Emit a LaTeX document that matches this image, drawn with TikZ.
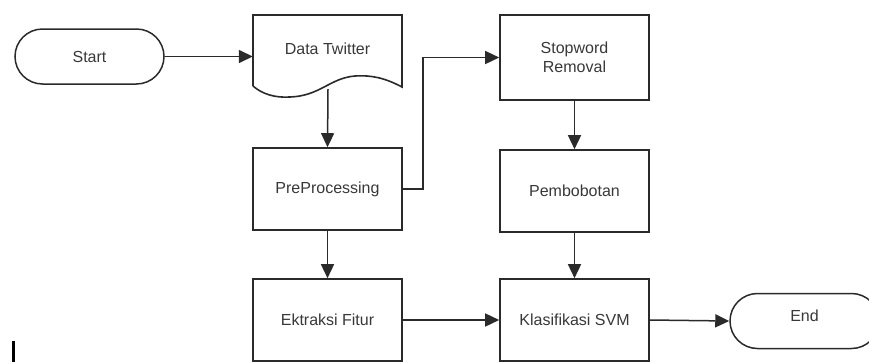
\documentclass[tikz,border=0pt]{standalone}
\usepackage{fontspec}
\setmainfont{Liberation Sans}
\usetikzlibrary{arrows.meta,shapes.misc,positioning}
\definecolor{ln}{HTML}{2A2A2A}
\definecolor{tx}{HTML}{383838}
\begin{document}
\begin{tikzpicture}[x=1pt,y=-1pt,
  every node/.style={font=\fontsize{16}{19}\selectfont, text=tx},
  procbox/.style={draw=ln, line width=1.6pt, rectangle, minimum width=149pt, minimum height=82pt, inner sep=0pt, align=center},
  term/.style={draw=ln, line width=1.5pt, rounded rectangle, minimum width=149pt, minimum height=55pt, inner sep=0pt},
  arr/.style={draw=ln, line width=1.5pt, -{Triangle[length=14pt,width=13pt]}}]
\useasboundingbox (0,0) rectangle (869,362);
% nodes
\node[term] (start) at (89.5,56.5) {Start};
\node[minimum width=149pt, minimum height=72pt, inner sep=0pt] (data) at (327.5,51) {\raisebox{4pt}{Data Twitter}};
\draw[ln, line width=1.6pt] (253,86) -- (253,15) -- (402,15) -- (402,87)
   .. controls (385,78) and (372,75) .. (355,76)
   .. controls (330,78) and (320,96) .. (290,97)
   .. controls (275,98) and (262,94) .. (253,86);
\coordinate (dbot) at (328,89);
\node[procbox] (pre) at (327.5,189) {PreProcessing};
\node[procbox] (ekt) at (327.5,320) {Ektraksi Fitur};
\node[procbox, minimum height=85pt] (stop) at (574.5,57.5) {Stopword\\Removal};
\node[procbox] (bobot) at (574.5,191) {Pembobotan};
\node[procbox] (svm) at (574.5,320) {Klasifikasi SVM};
\node[term] (end) at (804.5,321) {\raisebox{10pt}{End}};
% stray mark
\fill[black] (11.5,341) rectangle (14.5,362);
% connectors
\draw[arr] (start.east) -- (data.west |- start.east);
\draw[arr] (dbot) -- (pre.north);
\draw[arr] (pre.south) -- (ekt.north);
\draw[arr] (pre.east) -- ++(20,0) |- (stop.west);
\draw[arr] (stop.south) -- (bobot.north);
\draw[arr] (bobot.south) -- (svm.north);
\draw[arr] (ekt.east) -- (svm.west);
\draw[arr] (svm.east) -- (end.west);
\end{tikzpicture}
\end{document}
